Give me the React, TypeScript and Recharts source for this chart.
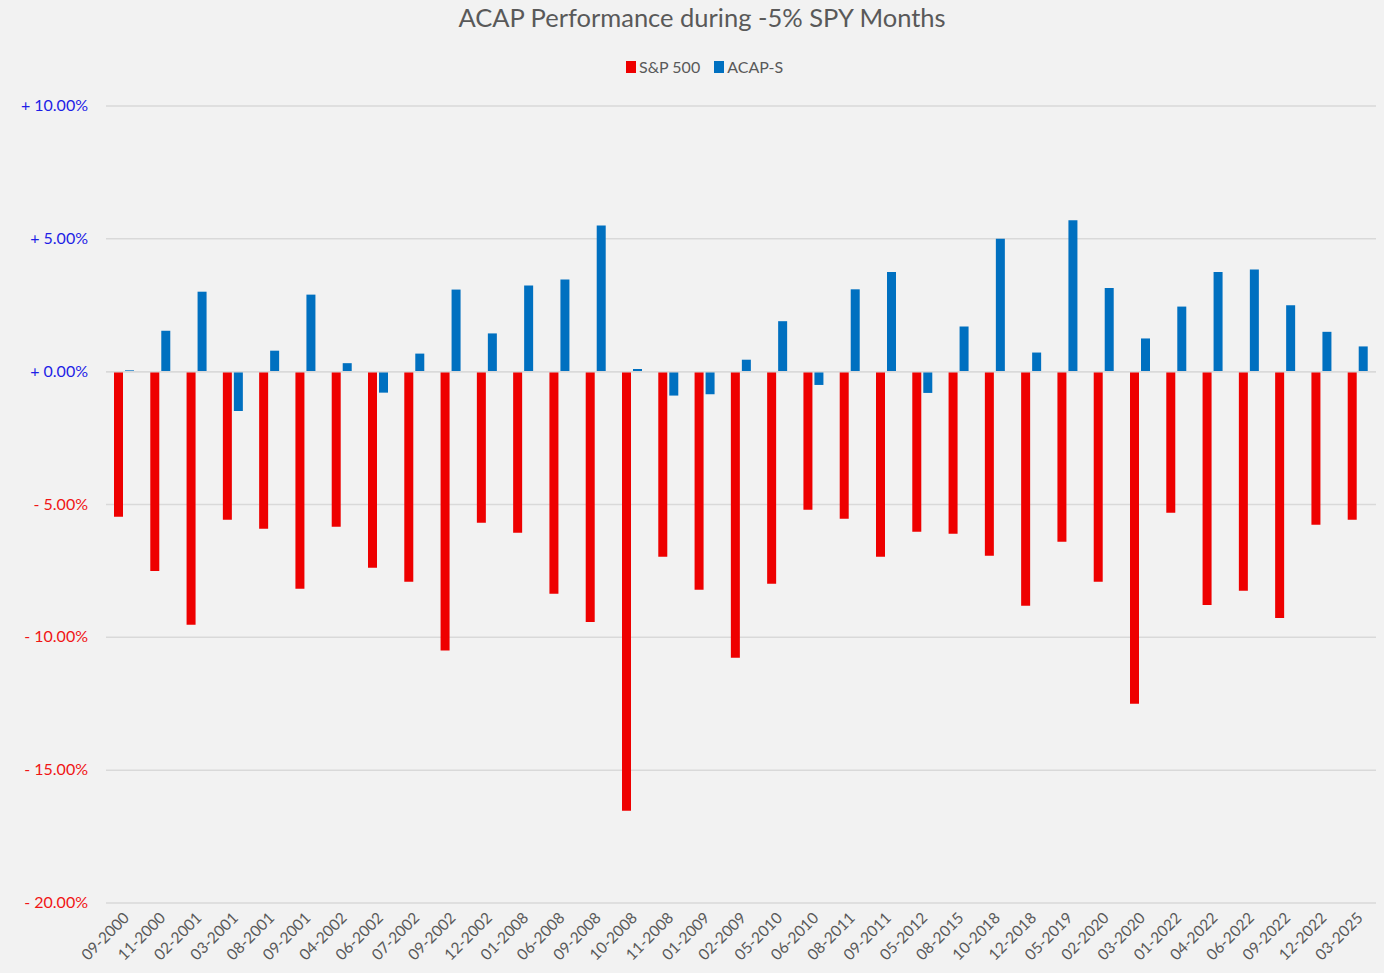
import React from 'react';
import {
  BarChart, Bar, XAxis, YAxis, CartesianGrid, ReferenceLine
} from 'recharts';

const months = [
  '09-2000', '11-2000', '02-2001', '03-2001', '08-2001', '09-2001', '04-2002',
  '06-2002', '07-2002', '09-2002', '12-2002', '01-2008', '06-2008', '09-2008',
  '10-2008', '11-2008', '01-2009', '02-2009', '05-2010', '06-2010', '08-2011',
  '09-2011', '05-2012', '08-2015', '10-2018', '12-2018', '05-2019', '02-2020',
  '03-2020', '01-2022', '04-2022', '06-2022', '09-2022', '12-2022', '03-2025',
];

const spx = [
  -5.46, -7.5, -9.53, -5.57, -5.91, -8.17, -5.84,
  -7.38, -7.91, -10.5, -5.69, -6.06, -8.36, -9.42,
  -16.53, -6.97, -8.21, -10.77, -7.98, -5.2, -5.54,
  -6.97, -6.03, -6.1, -6.93, -8.81, -6.4, -7.91,
  -12.5, -5.31, -8.78, -8.25, -9.27, -5.76, -5.57,
];

const acap = [
  0.05, 1.54, 3.01, -1.48, 0.79, 2.9, 0.32,
  -0.79, 0.68, 3.09, 1.44, 3.24, 3.47, 5.5,
  0.1, -0.9, -0.85, 0.45, 1.9, -0.5, 3.1,
  3.75, -0.8, 1.7, 5.0, 0.72, 5.7, 3.15,
  1.25, 2.45, 3.75, 3.85, 2.5, 1.5, 0.95,
];

const yTicks = [-20, -15, -10, -5, 0, 5, 10];

const series = [
  { key: 'S&P 500', color: '#EE0000' },
  { key: 'ACAP-S', color: '#0070C0' },
];

const data = months.map((m, i) => ({ month: m, 'S&P 500': spx[i], 'ACAP-S': acap[i] }));

const FONT = 'Lato, "Noto Sans", sans-serif';

const YTick = (props: any) => {
  const { x, y, payload } = props;
  const v: number = payload.value;
  const label = (v < 0 ? '- ' : '+ ') + Math.abs(v).toFixed(2) + '%';
  return (
    <text x={x - 10} y={y} dy={5} textAnchor="end" fontSize={16} fontFamily={FONT}
      fill={v < 0 ? '#F01515' : '#1E1EE6'}>
      {label}
    </text>
  );
};

const XTick = (props: any) => {
  const { x, y, payload } = props;
  const tx = x + 6;
  const ty = y + 8;
  return (
    <text x={tx} y={ty} textAnchor="end" fontSize={15.5} fontFamily={FONT}
      fill="#595959" transform={`rotate(-45, ${tx}, ${ty})`}>
      {payload.value}
    </text>
  );
};

const App: React.FC = () => {
  return (
    <div style={{ position: 'absolute', left: 0, top: 0, width: 1384, height: 973, background: '#F2F2F2' }}>
      <div style={{
        position: 'absolute', top: 2, left: 0, width: 1404, textAlign: 'center',
        fontFamily: FONT, fontSize: 25.5, color: '#595959',
      }}>
        ACAP Performance during -5% SPY Months
      </div>
      <div style={{
        position: 'absolute', top: 57, left: 626, display: 'flex', alignItems: 'center',
        fontFamily: FONT, fontSize: 16, color: '#595959',
      }}>
        {series.map((s) => (
          <div key={s.key} style={{ display: 'flex', alignItems: 'center', marginRight: 14 }}>
            <span style={{ display: 'inline-block', width: 10, height: 12, background: s.color, marginRight: 3 }} />
            <span>{s.key}</span>
          </div>
        ))}
      </div>
      <BarChart width={1384} height={973} data={data} barSize={9} barGap={2}
        margin={{ top: 106, right: 8, left: 0, bottom: 0 }}>
        <CartesianGrid vertical={false} stroke="#D9D9D9" strokeWidth={1.5} />
        <XAxis dataKey="month" interval={0} height={70} axisLine={false} tickLine={false}
          tick={<XTick />} />
        <YAxis domain={[-20, 10]} ticks={yTicks} width={106} axisLine={false} tickLine={false}
          tick={<YTick />} />
        <ReferenceLine y={0} stroke="#D9D9D9" strokeWidth={1.5} />
        {series.map((s) => (
          <Bar key={s.key} dataKey={s.key} fill={s.color} isAnimationActive={false} />
        ))}
      </BarChart>
    </div>
  );
};

export default App;
